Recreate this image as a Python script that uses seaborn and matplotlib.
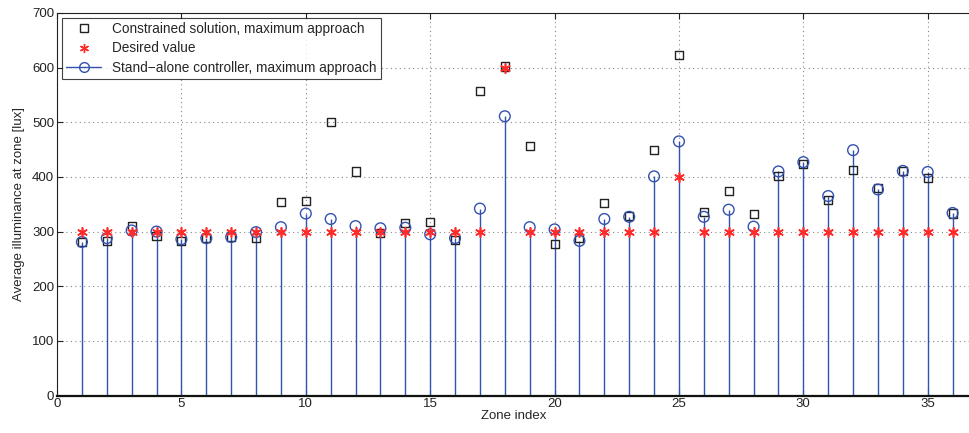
import numpy as np
import pandas as pd
import matplotlib
matplotlib.use("Agg")
import matplotlib.pyplot as plt
import seaborn as sns
from matplotlib.lines import Line2D

zones = list(range(1, 37))
constrained = [281, 282, 310, 292, 283, 288, 290, 288, 354, 356,
               500, 410, 298, 316, 317, 285, 558, 602, 457, 278,
               288, 353, 329, 449, 623, 335, 374, 332, 402, 423,
               358, 413, 379, 411, 398, 333]
desired = [300] * 17 + [600] + [300] * 6 + [400] + [300] * 11
standalone = [281, 288, 302, 300, 286, 288, 290, 299, 308, 333,
              323, 310, 306, 307, 295, 288, 342, 511, 308, 304,
              283, 323, 327, 401, 465, 327, 340, 309, 410, 427,
              365, 449, 377, 411, 409, 334]
x_ticks = [0, 5, 10, 15, 20, 25, 30, 35]
y_ticks = [0, 100, 200, 300, 400, 500, 600, 700]

df = pd.DataFrame({"zone": zones, "constrained": constrained,
                   "desired": desired, "standalone": standalone})

sns.set_style("white")
plt.rcParams['font.family'] = ['Liberation Sans', 'DejaVu Sans']

fig = plt.figure(figsize=(9.7, 4.33), dpi=100)
ax = fig.add_axes([0.0588, 0.0866, 0.9412, 0.8834])

blue = '#3352b0'
ax.vlines(df["zone"], 0, df["standalone"], color=blue, lw=1.0, zorder=2)
sns.scatterplot(data=df, x="zone", y="standalone", ax=ax, marker='o', s=60,
                facecolor='none', edgecolor=blue, linewidth=1.0, zorder=4)
sns.scatterplot(data=df, x="zone", y="constrained", ax=ax, marker='s', s=34,
                facecolor='none', edgecolor='#222222', linewidth=1.0, zorder=3)
sns.scatterplot(data=df, x="zone", y="desired", ax=ax, marker=(6, 2, 0), s=45,
                color='#ff2a2a', edgecolor='#ff2a2a', linewidth=1.2, zorder=5)

ax.set_xlim(0, 36.7)
ax.set_ylim(0, 700)
ax.set_xticks(x_ticks)
ax.set_yticks(y_ticks)
ax.grid(True, linestyle=(0, (1, 3)), color='#888888', linewidth=0.8)
ax.tick_params(direction='in', length=4, labelsize=9.5, colors='#222222',
               left=True, bottom=True, top=True, pad=2)
ax.set_xlabel("Zone index", fontsize=9.5, labelpad=0)
ax.set_ylabel("Average illuminance at zone [lux]", fontsize=9.5, labelpad=5)
for s in ['left', 'top']:
    ax.spines[s].set_color('#222222')
    ax.spines[s].set_linewidth(0.8)
ax.spines['bottom'].set_color('#111111')
ax.spines['bottom'].set_linewidth(1.6)
ax.spines['right'].set_visible(False)

handles = [
    Line2D([], [], marker='s', ls='none', mfc='none', mec='#222222', ms=5.5),
    Line2D([], [], marker=(6, 2, 0), ls='none', color='#ff2a2a', ms=6.5),
    Line2D([], [], marker='o', color=blue, mfc='none', mec=blue, ms=7, lw=1.0),
]
labels = ["Constrained solution, maximum approach", "Desired value",
          "Stand\u2212alone controller, maximum approach"]
leg = ax.legend(handles, labels, loc='upper left', fontsize=9.8,
                frameon=True, fancybox=False, edgecolor='#111111',
                borderpad=0.3, labelspacing=0.4, handlelength=2.6,
                handletextpad=0.8, borderaxespad=0.35)
leg.get_frame().set_linewidth(0.8)

fig.savefig("out.png", dpi=100)
